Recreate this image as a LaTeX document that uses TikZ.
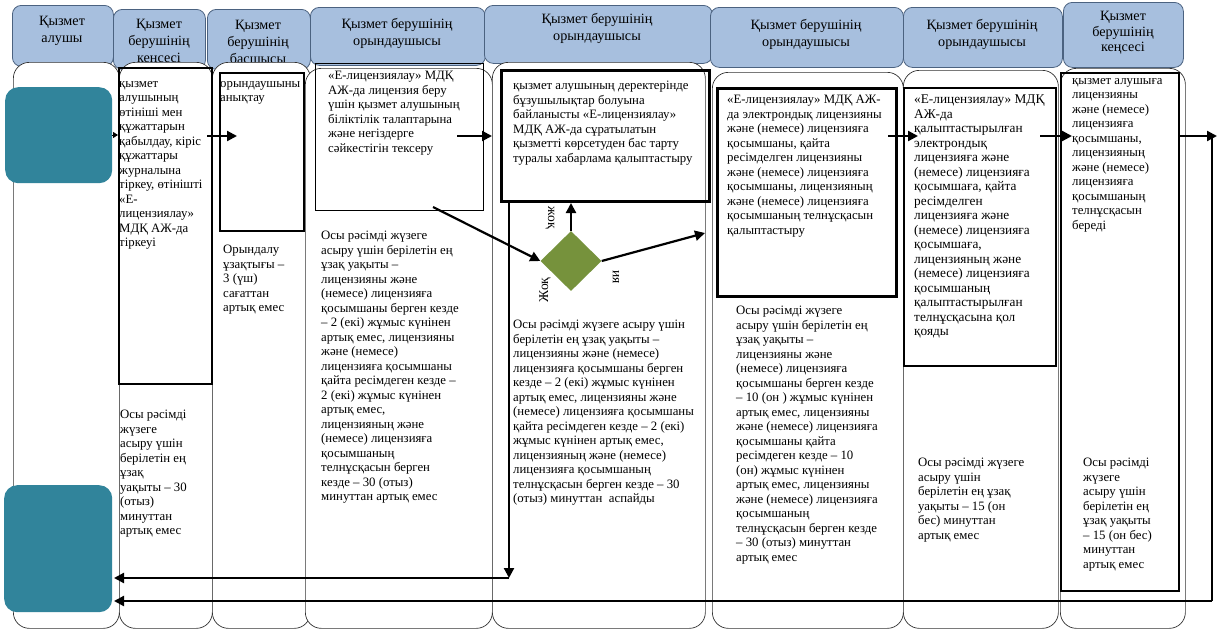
\documentclass[tikz,border=0pt]{standalone}
\usepackage{fontspec}
\setmainfont{Liberation Serif}
\usetikzlibrary{shapes.geometric,arrows.meta}
\definecolor{hdrfill}{RGB}{167,191,222}
\definecolor{hdrline}{RGB}{75,98,128}
\definecolor{tealbox}{RGB}{49,132,155}
\definecolor{olivebox}{RGB}{118,146,60}
\newcommand\rectnode[6]{\node[#1, minimum width={#5-#3}, minimum height={#6-#4}, anchor=north west] (#2) at (#3,#4) {};}
\tikzset{
  hdr/.style={draw=hdrline, fill=hdrfill, rounded corners=9pt, line width=0.8pt, inner sep=0pt},
  hdrtxt/.style={align=center, font=\fontsize{14.2}{17}\selectfont, inner sep=0pt},
  lanebody/.style={draw=black!80, fill=white, rounded corners=16pt, line width=0.7pt, inner sep=0pt},
  stepbox/.style={draw=black, line width=2pt, inner sep=0pt},
  tealnode/.style={fill=tealbox, rounded corners=13pt, inner sep=0pt},
  txt/.style={anchor=north west, align=left, inner sep=0pt, font=\fontsize{12.8}{14.5}\selectfont},
  bigtxt/.style={txt, font=\fontsize{13.3}{14.5}\selectfont},
  arr/.style={line width=2.2pt, -{Triangle[length=10pt,width=10pt]}},
  lbl/.style={inner sep=0pt, font=\fontsize{13.5}{15}\selectfont}
}
\begin{document}
\begin{tikzpicture}[x=1pt,y=-1pt]
\useasboundingbox (0,0) rectangle (1217,632);
% headers
\rectnode{hdr}{h1}{12}{5}{113}{66}
\rectnode{hdr}{h2}{113}{9}{205}{69}
\rectnode{hdr}{h3}{207}{9}{310}{69}
\rectnode{hdr}{h4}{310}{7}{485}{65}
\rectnode{hdr}{h5}{484}{5}{712}{63}
\rectnode{hdr}{h6}{710}{7}{903}{67}
\rectnode{hdr}{h7}{903}{7}{1062}{67}
\rectnode{hdr}{h8}{1063}{2}{1183}{67}
\node[hdrtxt] (h1t) at (62,31) {Қызмет\\алушы};
\node[hdrtxt] (h2t) at (159,42) {Қызмет\\берушінің\\кеңсесі};
\node[hdrtxt] (h3t) at (258,42) {Қызмет\\берушінің\\басшысы};
\node[hdrtxt] (h4t) at (397,33) {Қызмет берушінің\\орындаушысы};
\node[hdrtxt] (h5t) at (597,28) {Қызмет берушінің\\орындаушысы};
\node[hdrtxt] (h6t) at (806,34) {Қызмет берушінің\\орындаушысы};
\node[hdrtxt] (h7t) at (982,34) {Қызмет берушінің\\орындаушысы};
\node[hdrtxt, font=\fontsize{14.2}{15.5}\selectfont] (h8t) at (1123,33) {Қызмет\\берушінің\\кеңсесі};
% lane bodies
\rectnode{lanebody}{l1}{13}{62}{119}{628}
\rectnode{lanebody}{l2}{119}{62}{212}{628}
\rectnode{lanebody}{l3}{212}{62}{310}{628}
\rectnode{lanebody}{l4}{305}{68}{492}{628}
\rectnode{lanebody}{l5}{492}{62}{705}{628}
\rectnode{lanebody}{l6}{712}{72}{903}{628}
\rectnode{lanebody}{l7}{903}{70}{1058}{628}
\rectnode{lanebody}{l8}{1060}{68}{1185}{628}
% teal boxes
\rectnode{tealnode}{c1}{5}{87}{112}{183}
\rectnode{tealnode}{c2}{4}{485}{112}{612}
% step boxes
\rectnode{stepbox}{b2}{118}{67}{211}{383}
\rectnode{stepbox, line width=1.5pt}{b3}{219}{72}{303}{230}
\rectnode{stepbox, line width=1pt}{b4}{315}{63}{483}{210}
\rectnode{stepbox, line width=3pt}{b5}{500}{69}{708}{200}
\rectnode{stepbox, line width=2.5pt}{b6}{716}{87}{895}{295}
\rectnode{stepbox}{b7}{903}{87}{1055}{365}
\rectnode{stepbox}{b8}{1060}{72}{1178}{590}
% decision
\node[diamond, fill=olivebox, inner sep=0pt, minimum width=61pt, minimum height=60pt] (d) at (571,261) {};
% texts
\node[txt] (t2) at (119,81) {қызмет\\алушының\\өтініші мен\\құжаттарын\\қабылдау, кіріс\\құжаттары\\журналына\\тіркеу, өтінішті\\«Е-\\лицензиялау»\\МДҚ АЖ-да\\тіркеуі};
\node[txt] (t2b) at (120,410) {Осы рәсімді\\жүзеге\\асыру үшін\\берілетін ең\\ұзақ\\уақыты – 30\\(отыз)\\минуттан\\артық емес};
\node[txt] (t3) at (220,81) {орындаушыны\\анықтау};
\node[txt] (t3b) at (223,245) {Орындалу\\ұзақтығы –\\3 (үш)\\сағаттан\\артық емес};
\node[txt] (t4) at (328,71) {«Е-лицензиялау» МДҚ\\АЖ-да лицензия беру\\үшін қызмет алушының\\біліктілік талаптарына\\және негіздерге\\сәйкестігін тексеру};
\node[txt] (t4b) at (321,231) {Осы рәсімді жүзеге\\асыру үшін берілетін ең\\ұзақ уақыты –\\лицензияны және\\(немесе) лицензияға\\қосымшаны берген кезде\\– 2 (екі) жұмыс күнінен\\артық емес, лицензияны\\және (немесе)\\лицензияға қосымшаны\\қайта ресімдеген кезде –\\2 (екі) жұмыс күнінен\\артық емес,\\лицензияның және\\(немесе) лицензияға\\қосымшаның\\телнұсқасын берген\\кезде – 30 (отыз)\\минуттан артық емес};
\node[txt] (t5) at (513,81) {қызмет алушының деректерінде\\бұзушылықтар болуына\\байланысты «Е-лицензиялау»\\МДҚ АЖ-да сұратылатын\\қызметті көрсетуден бас тарту\\туралы хабарлама қалыптастыру};
\node[txt] (t5b) at (513,320) {Осы рәсімді жүзеге асыру үшін\\берілетін ең ұзақ уақыты –\\лицензияны және (немесе)\\лицензияға қосымшаны берген\\кезде – 2 (екі) жұмыс күнінен\\артық емес, лицензияны және\\(немесе) лицензияға қосымшаны\\қайта ресімдеген кезде – 2 (екі)\\жұмыс күнінен артық емес,\\лицензияның және (немесе)\\лицензияға қосымшаның\\телнұсқасын берген кезде – 30\\(отыз) минуттан\ \ аспайды};
\node[txt] (t6) at (727,95) {«Е-лицензиялау» МДҚ АЖ-\\да электрондық лицензияны\\және (немесе) лицензияға\\қосымшаны, қайта\\ресімделген лицензияны\\және (немесе) лицензияға\\қосымшаны, лицензияның\\және (немесе) лицензияға\\қосымшаның телнұсқасын\\қалыптастыру};
\node[txt] (t6b) at (736,306) {Осы рәсімді жүзеге\\асыру үшін берілетін ең\\ұзақ уақыты –\\лицензияны және\\(немесе) лицензияға\\қосымшаны берген кезде\\– 10 (он ) жұмыс күнінен\\артық емес, лицензияны\\және (немесе) лицензияға\\қосымшаны қайта\\ресімдеген кезде – 10\\(он) жұмыс күнінен\\артық емес, лицензияны\\және (немесе) лицензияға\\қосымшаның\\телнұсқасын берген кезде\\– 30 (отыз) минуттан\\артық емес};
\node[bigtxt] (t7) at (914,95) {«Е-лицензиялау» МДҚ\\АЖ-да\\қалыптастырылған\\электрондық\\лицензияға және\\(немесе) лицензияға\\қосымшаға, қайта\\ресімделген\\лицензияға және\\(немесе) лицензияға\\қосымшаға,\\лицензияның және\\(немесе) лицензияға\\қосымшаның\\қалыптастырылған\\телнұсқасына қол\\қояды};
\node[txt] (t7b) at (918,458) {Осы рәсімді жүзеге\\асыру үшін\\берілетін ең ұзақ\\уақыты – 15 (он\\бес) минуттан\\артық емес};
\node[txt] (t8) at (1072,78) {қызмет алушыға\\лицензияны\\және (немесе)\\лицензияға\\қосымшаны,\\лицензияның\\және (немесе)\\лицензияға\\қосымшаның\\телнұсқасын\\береді};
\node[txt] (t8b) at (1083,458) {Осы рәсімді\\жүзеге\\асыру үшін\\берілетін ең\\ұзақ уақыты\\– 15 (он бес)\\минуттан\\артық емес};
% labels
\node[lbl, rotate=-90] (no1) at (550,218) {жоқ};
\node[lbl, rotate=90] (no2) at (545,290) {Жоқ};
\node[lbl, rotate=-90] (yes) at (616,277) {ия};
% coordinates
\coordinate (a2s) at (207,136);
\coordinate (a2e) at (237,136);
\coordinate (a3s) at (457,136);
\coordinate (a3e) at (492,136);
\coordinate (a4s) at (433,207);
\coordinate (a6e) at (705,233);
\coordinate (a7s) at (888,136);
\coordinate (a7e) at (918,136);
\coordinate (a8s) at (1040,136);
\coordinate (a8e) at (1072,136);
\coordinate (a9e) at (1217,136);
\coordinate (r1) at (1212,136);
\coordinate (r2) at (1212,601);
\coordinate (l1e) at (114,601);
\coordinate (v1) at (509,200);
\coordinate (v2) at (509,578);
\coordinate (l2e) at (114,578);
% arrows
\draw[line width=1pt, -{Triangle[length=5pt,width=6pt]}] (c1.east |- 0,135) -- (b2.west |- 0,135);
\draw[arr] (a2s) -- (a2e);
\draw[arr] (a3s) -- (a3e);
\draw[arr] (a4s) -- (d.west);
\draw[arr] (d.north) -- (d.north |- b5.south);
\draw[arr] (d.east) -- (a6e);
\draw[arr] (a7s) -- (a7e);
\draw[arr] (a8s) -- (a8e);
\draw[arr] (b8.east |- 0,136) -- (a9e);
\draw[line width=2.2pt] (r1) -- (r2);
\draw[arr] (r2) -- (l1e);
\draw[arr] (v1) -- (v2);
\draw[arr] (v2) -- (l2e);
\end{tikzpicture}
\end{document}
